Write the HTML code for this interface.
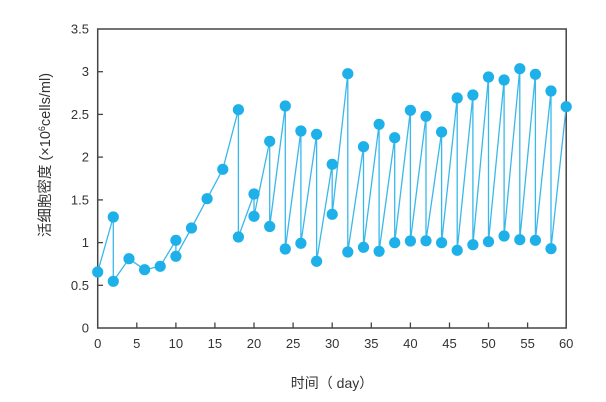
<!DOCTYPE html>
<html><head><meta charset="utf-8"><style>
html,body{margin:0;padding:0;background:#fff;}
svg{display:block;}
text{font-family:"Liberation Sans","Noto Sans CJK SC",sans-serif;fill:#333;}
</style></head><body>
<svg width="606" height="402" viewBox="0 0 606 402" xmlns="http://www.w3.org/2000/svg">
<rect x="0" y="0" width="606" height="402" fill="#fff"/>
<rect x="97.7" y="29" width="468.5" height="299" fill="none" stroke="#444" stroke-width="1.5"/>
<g stroke="#444" stroke-width="1.3">
<line x1="97.7" y1="285.3" x2="103" y2="285.3"/>
<line x1="97.7" y1="242.6" x2="103" y2="242.6"/>
<line x1="97.7" y1="199.9" x2="103" y2="199.9"/>
<line x1="97.7" y1="157.1" x2="103" y2="157.1"/>
<line x1="97.7" y1="114.4" x2="103" y2="114.4"/>
<line x1="97.7" y1="71.7" x2="103" y2="71.7"/>
<line x1="136.8" y1="328" x2="136.8" y2="322.5"/>
<line x1="175.9" y1="328" x2="175.9" y2="322.5"/>
<line x1="214.9" y1="328" x2="214.9" y2="322.5"/>
<line x1="254.0" y1="328" x2="254.0" y2="322.5"/>
<line x1="293.1" y1="328" x2="293.1" y2="322.5"/>
<line x1="332.2" y1="328" x2="332.2" y2="322.5"/>
<line x1="371.3" y1="328" x2="371.3" y2="322.5"/>
<line x1="410.4" y1="328" x2="410.4" y2="322.5"/>
<line x1="449.5" y1="328" x2="449.5" y2="322.5"/>
<line x1="488.5" y1="328" x2="488.5" y2="322.5"/>
<line x1="527.6" y1="328" x2="527.6" y2="322.5"/>
</g>
<g font-size="13" text-anchor="end">
<text x="89" y="332.5">0</text>
<text x="89" y="289.8">0.5</text>
<text x="89" y="247.1">1</text>
<text x="89" y="204.4">1.5</text>
<text x="89" y="161.6">2</text>
<text x="89" y="118.9">2.5</text>
<text x="89" y="76.2">3</text>
<text x="89" y="33.5">3.5</text>
</g>
<g font-size="13" text-anchor="middle">
<text x="97.7" y="348">0</text>
<text x="136.8" y="348">5</text>
<text x="175.9" y="348">10</text>
<text x="214.9" y="348">15</text>
<text x="254.0" y="348">20</text>
<text x="293.1" y="348">25</text>
<text x="332.2" y="348">30</text>
<text x="371.3" y="348">35</text>
<text x="410.4" y="348">40</text>
<text x="449.5" y="348">45</text>
<text x="488.5" y="348">50</text>
<text x="527.6" y="348">55</text>
<text x="566.2" y="348">60</text>
</g>
<text x="332" y="388" font-size="14" text-anchor="middle" fill="#444">时间（ day）</text>
<text transform="translate(50,155) rotate(-90)" font-size="14.5" text-anchor="middle" fill="#444">活细胞密度 (×10<tspan font-size="9" dy="-5">6</tspan><tspan dy="5">cells/ml)</tspan></text>
<polyline fill="none" stroke="#3ab8ea" stroke-width="1.3" stroke-linejoin="round" points="97.7,272 113.3,217 113.3,281.3 129.0,258.7 144.6,269.7 160.2,266.3 175.9,240.3 175.9,256.3 191.5,228 207.1,198.7 222.8,169.3 238.4,109.7 238.4,237 254.0,194 254.0,216.3 269.7,141.3 269.7,226.5 285.3,106 285.3,249 300.9,131 300.9,243.3 316.6,134.3 316.6,261.3 332.2,164.3 332.2,214.3 347.8,73.7 347.8,252 363.5,146.7 363.5,247.3 379.1,124.3 379.1,251.3 394.7,137.7 394.7,242.7 410.4,110.3 410.4,241 426.0,116.3 426.0,240.8 441.6,132 441.6,242.7 457.2,98 457.2,250.3 472.9,95 472.9,244.7 488.5,77 488.5,241.7 504.1,80 504.1,236 519.8,68.7 519.8,239.7 535.4,74.3 535.4,240.3 551.0,91 551.0,248.7 566.2,106.7"/>
<g fill="#1eb0e8">
<circle cx="97.7" cy="272" r="5.6"/>
<circle cx="113.3" cy="217" r="5.6"/>
<circle cx="113.3" cy="281.3" r="5.6"/>
<circle cx="129.0" cy="258.7" r="5.6"/>
<circle cx="144.6" cy="269.7" r="5.6"/>
<circle cx="160.2" cy="266.3" r="5.6"/>
<circle cx="175.9" cy="240.3" r="5.6"/>
<circle cx="175.9" cy="256.3" r="5.6"/>
<circle cx="191.5" cy="228" r="5.6"/>
<circle cx="207.1" cy="198.7" r="5.6"/>
<circle cx="222.8" cy="169.3" r="5.6"/>
<circle cx="238.4" cy="109.7" r="5.6"/>
<circle cx="238.4" cy="237" r="5.6"/>
<circle cx="254.0" cy="194" r="5.6"/>
<circle cx="254.0" cy="216.3" r="5.6"/>
<circle cx="269.7" cy="141.3" r="5.6"/>
<circle cx="269.7" cy="226.5" r="5.6"/>
<circle cx="285.3" cy="106" r="5.6"/>
<circle cx="285.3" cy="249" r="5.6"/>
<circle cx="300.9" cy="131" r="5.6"/>
<circle cx="300.9" cy="243.3" r="5.6"/>
<circle cx="316.6" cy="134.3" r="5.6"/>
<circle cx="316.6" cy="261.3" r="5.6"/>
<circle cx="332.2" cy="164.3" r="5.6"/>
<circle cx="332.2" cy="214.3" r="5.6"/>
<circle cx="347.8" cy="73.7" r="5.6"/>
<circle cx="347.8" cy="252" r="5.6"/>
<circle cx="363.5" cy="146.7" r="5.6"/>
<circle cx="363.5" cy="247.3" r="5.6"/>
<circle cx="379.1" cy="124.3" r="5.6"/>
<circle cx="379.1" cy="251.3" r="5.6"/>
<circle cx="394.7" cy="137.7" r="5.6"/>
<circle cx="394.7" cy="242.7" r="5.6"/>
<circle cx="410.4" cy="110.3" r="5.6"/>
<circle cx="410.4" cy="241" r="5.6"/>
<circle cx="426.0" cy="116.3" r="5.6"/>
<circle cx="426.0" cy="240.8" r="5.6"/>
<circle cx="441.6" cy="132" r="5.6"/>
<circle cx="441.6" cy="242.7" r="5.6"/>
<circle cx="457.2" cy="98" r="5.6"/>
<circle cx="457.2" cy="250.3" r="5.6"/>
<circle cx="472.9" cy="95" r="5.6"/>
<circle cx="472.9" cy="244.7" r="5.6"/>
<circle cx="488.5" cy="77" r="5.6"/>
<circle cx="488.5" cy="241.7" r="5.6"/>
<circle cx="504.1" cy="80" r="5.6"/>
<circle cx="504.1" cy="236" r="5.6"/>
<circle cx="519.8" cy="68.7" r="5.6"/>
<circle cx="519.8" cy="239.7" r="5.6"/>
<circle cx="535.4" cy="74.3" r="5.6"/>
<circle cx="535.4" cy="240.3" r="5.6"/>
<circle cx="551.0" cy="91" r="5.6"/>
<circle cx="551.0" cy="248.7" r="5.6"/>
<circle cx="566.2" cy="106.7" r="5.6"/>
</g>
</svg>
</body></html>
